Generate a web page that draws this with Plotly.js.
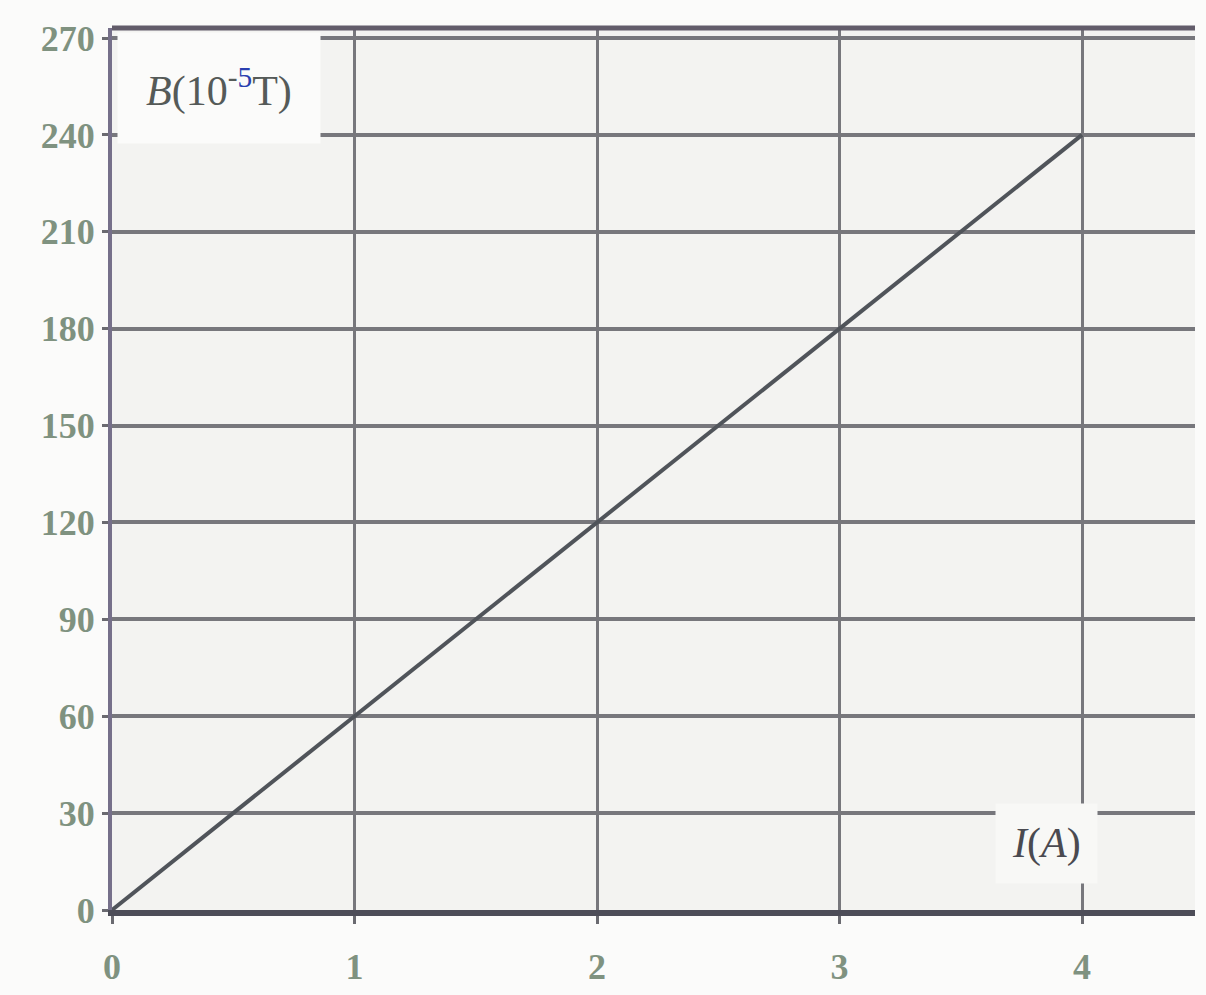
<!DOCTYPE html>
<html>
<head>
<meta charset="utf-8">
<script src="https://cdn.plot.ly/plotly-3.0.1.min.js"></script>
<style>
  html, body { margin: 0; padding: 0; background: #fff; }
  #chart { width: 1206px; height: 995px; }
</style>
</head>
<body>
<div id="chart"></div>
<script>
// current I (A) and field B (10^-5 T)
const current = [0, 1, 2, 3, 4];
const field = [0, 60, 120, 180, 240];
const xTicks = [0, 1, 2, 3, 4];
const yTicks = [0, 30, 60, 90, 120, 150, 180, 210, 240, 270];

const trace = {
  x: current,
  y: field,
  mode: 'lines',
  line: { color: '#50545a', width: 4 },
  hoverinfo: 'none'
};

const tickFont = { family: 'Liberation Serif, DejaVu Serif, serif', size: 36, color: '#7f9280', weight: 'bold' };

const layout = {
  width: 1206,
  height: 995,
  margin: { t: 28, l: 112, r: 11, b: 85 },
  paper_bgcolor: '#fbfbfa',
  plot_bgcolor: '#f3f3f1',
  showlegend: false,
  xaxis: {
    range: [0, 4.466],
    tickvals: xTicks,
    ticktext: xTicks.map(String),
    tickfont: tickFont,
    ticks: 'outside',
    ticklen: 8,
    tickwidth: 3,
    tickcolor: '#6a6a70',
    ticklabelstandoff: 12,
    showgrid: true,
    gridcolor: '#77777c',
    gridwidth: 3,
    zeroline: false,
    showline: true,
    linecolor: '#4d4d58',
    linewidth: 6
  },
  yaxis: {
    range: [0, 273.1],
    tickvals: yTicks,
    ticktext: yTicks.map(String),
    tickfont: tickFont,
    ticks: 'outside',
    ticklen: 6,
    tickwidth: 3,
    tickcolor: '#6a6a70',
    ticklabelstandoff: 0,
    showgrid: true,
    gridcolor: '#77777c',
    gridwidth: 4,
    zeroline: false,
    showline: true,
    linecolor: '#76708a',
    linewidth: 4
  },
  shapes: [
    { type: 'line', xref: 'paper', yref: 'paper', x0: 0, x1: 1, y0: 1, y1: 1,
      line: { color: '#625c6a', width: 5 } }
  ],
  annotations: [
    {
      xref: 'paper', yref: 'paper', x: 0.005, y: 0.995, xanchor: 'left', yanchor: 'top',
      text: '<i>B</i>(10<sup>-<span style="color:#2a3fb0">5</span></sup>T)',
      showarrow: false,
      bgcolor: '#fbfbfa',
      borderpad: 28,
      font: { family: 'Liberation Serif, DejaVu Serif, serif', size: 42, color: '#555a58' }
    },
    {
      xref: 'paper', yref: 'paper', x: 0.815, y: 0.075, xanchor: 'left', yanchor: 'middle',
      text: '<i>I</i>(<i>A</i>)',
      showarrow: false,
      bgcolor: '#f8f8f6',
      borderpad: 16,
      font: { family: 'Liberation Serif, DejaVu Serif, serif', size: 42, color: '#4a4a50' }
    }
  ]
};

Plotly.newPlot('chart', [trace], layout, { displayModeBar: false, staticPlot: true });
</script>
</body>
</html>
